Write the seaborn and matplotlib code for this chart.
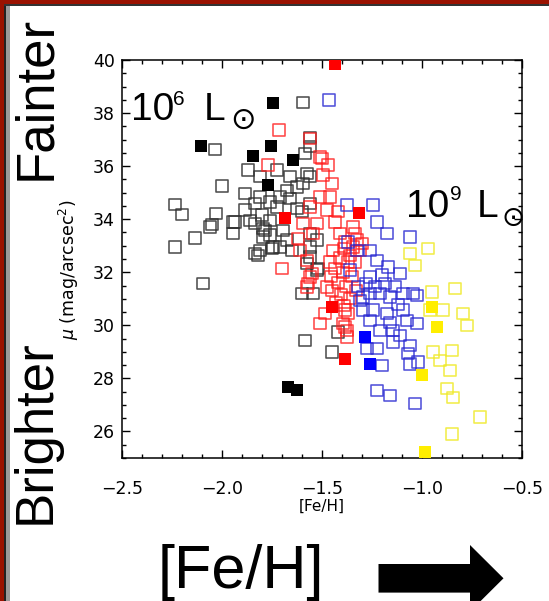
import numpy as np
import pandas as pd
import matplotlib
matplotlib.use("Agg")
import matplotlib.pyplot as plt
from matplotlib.patches import Polygon, Rectangle
from matplotlib.ticker import MultipleLocator
import seaborn as sns

# ---------------- data ----------------
black_open_fe = [-2.035, -2.00, -2.235, -2.20, -2.135, -2.05, -2.03, -1.945, -1.935, -1.87,
                 -1.885, -1.81, -1.835, -1.835, -1.785, -1.80, -2.235, -2.095, -1.835, -1.81,
                 -1.75, -1.76, -1.595, -1.56, -1.585, -1.725, -1.81, -1.76, -1.885, -1.86,
                 -1.795, -1.76, -1.725, -1.71, -1.675, -1.66, -1.66, -1.575, -1.56, -1.625,
                 -1.595, -1.625, -1.60, -1.56, -1.795, -1.82, -1.745, -1.695, -1.675, -1.65,
                 -1.71, -1.56, -1.525, -1.56, -1.56, -1.52, -1.575, -1.60, -1.545, -1.585,
                 -1.45, -1.42, -1.525, -1.56, -2.06, -1.945]
black_open_mu = [36.63, 35.25, 34.55, 34.18, 33.29, 33.80, 34.21, 33.46, 33.90, 35.85,
                 34.97, 35.60, 34.59, 33.84, 33.58, 34.15, 32.95, 31.57, 32.71, 32.83,
                 32.89, 33.40, 38.39, 37.08, 36.48, 35.85, 34.84, 34.65, 34.34, 33.96,
                 33.65, 33.96, 34.46, 34.84, 35.09, 34.78, 35.60, 35.72, 35.60, 35.22,
                 35.35, 34.40, 34.28, 34.59, 33.33, 32.64, 32.96, 33.58, 33.21, 32.83,
                 32.96, 33.46, 33.21, 32.96, 32.58, 32.14, 32.33, 31.20, 31.20, 29.43,
                 29.00, 29.75, 32.08, 36.73, 33.71, 33.90]
black_fill_fe = [-2.107, -1.845, -1.757, -1.772, -1.747, -1.644, -1.669, -1.627]
black_fill_mu = [36.77, 36.38, 36.77, 35.28, 38.39, 36.23, 27.67, 27.57]

red_open_fe = [-1.715, -1.56, -1.50, -1.47, -1.45, -1.77, -1.51, -1.46, -1.435, -1.385,
               -1.325, -1.30, -1.495, -1.51, -1.41, -1.345, -1.31, -1.36, -1.70, -1.55,
               -1.57, -1.485, -1.51, -1.395, -1.375, -1.37, -1.475, -1.56, -1.595, -1.62,
               -1.61, -1.575, -1.475, -1.42, -1.525, -1.545, -1.335, -1.345, -1.56, -1.575,
               -1.385, -1.385, -1.375,
               -1.445, -1.41, -1.37, -1.435, -1.395, -1.35, -1.42, -1.38, -1.45, -1.405,
               -1.36, -1.43, -1.39, -1.46, -1.335, -1.39, -1.455, -1.33]
red_open_mu = [37.36, 37.05, 36.29, 36.04, 35.35, 36.04, 34.84, 34.84, 33.90, 33.14,
               33.21, 33.08, 35.66, 36.35, 33.46, 33.71, 32.83, 32.64, 32.14, 31.95,
               31.57, 30.44, 30.06, 30.06, 29.81, 30.44, 31.45, 34.46, 33.84, 33.27,
               32.83, 32.45, 34.34, 34.28, 33.84, 33.46, 33.46, 32.96, 31.82, 31.45,
               30.57, 29.94, 29.56,
               32.83, 32.53, 32.38, 32.15, 32.00, 31.85, 31.62, 31.47, 31.32, 31.17,
               31.02, 30.87, 30.75, 32.38, 32.38, 32.90, 31.85, 31.32]
red_fill_fe = [-1.435, -1.315, -1.685, -1.45, -1.385]
red_fill_mu = [39.85, 34.24, 34.03, 30.69, 28.74]

blue_open_fe = [-1.465, -1.375, -1.245, -1.225, -1.175, -1.06, -1.37, -1.325, -1.26, -1.225,
                -1.17, -1.11, -1.26, -1.36, -1.20, -1.26, -1.295, -1.21, -1.16, -1.095,
                -1.045, -1.025, -1.295, -1.245, -1.175, -1.095, -1.075, -1.025, -1.26, -1.21,
                -1.145, -1.145, -1.06, -1.275, -1.225, -1.07, -1.06, -1.02, -1.20, -1.225,
                -1.16, -1.035, -1.32, -1.28, -1.235, -1.185, -1.135, -1.31, -1.12, -1.16,
                -1.11]
blue_open_mu = [38.49, 34.53, 34.53, 33.90, 33.46, 33.33, 33.14, 32.83, 32.83, 32.45,
                32.20, 31.95, 31.82, 32.08, 31.89, 31.20, 31.07, 31.20, 31.07, 31.20,
                31.20, 31.13, 30.57, 30.57, 30.44, 30.57, 30.19, 30.06, 30.19, 29.81,
                29.81, 29.37, 29.25, 29.12, 29.12, 28.93, 28.55, 28.62, 28.49, 27.55,
                27.36, 27.05, 31.47, 31.58, 31.47, 31.58, 31.47, 30.94, 30.79, 30.11,
                29.62]
blue_fill_fe = [-1.285, -1.26]
blue_fill_mu = [29.56, 28.55]

yellow_open_fe = [-0.97, -1.06, -1.035, -0.95, -0.835, -0.895, -0.795, -0.775, -0.85, -0.945,
                  -0.91, -0.86, -0.875, -0.845, -0.71, -0.85, -0.96]
yellow_open_mu = [32.89, 32.71, 32.26, 31.26, 31.38, 30.57, 30.44, 30.00, 29.06, 29.00,
                  28.68, 28.30, 27.61, 27.29, 26.54, 25.91, 30.57]
yellow_fill_fe = [-0.95, -0.925, -1.00, -0.985]
yellow_fill_mu = [30.69, 29.94, 28.11, 25.22]

x_ticks = [-2.5, -2.0, -1.5, -1.0, -0.5]
y_ticks = [26, 28, 30, 32, 34, 36, 38, 40]

# ---------------- figure ----------------
W, H = 549, 601
sns.set_style("ticks")
plt.rcParams["font.family"] = ["DejaVu Sans"]
plt.rcParams["text.color"] = "black"
plt.rcParams["axes.labelcolor"] = "black"
plt.rcParams["xtick.color"] = "black"
plt.rcParams["ytick.color"] = "black"

fig = plt.figure(figsize=(W / 100, H / 100), dpi=100)
fig.patch.set_facecolor("white")

def fx(px):
    return px / W

def fy(py):
    return 1 - py / H

ax = fig.add_axes([fx(122), fy(458), (522 - 122) / W, (458 - 60) / H])

groups = [
    ("black", False, black_open_fe, black_open_mu, "#303030", 0.85),
    ("red", False, red_open_fe, red_open_mu, "#ff1a1a", 0.8),
    ("blue", False, blue_open_fe, blue_open_mu, "#2626d0", 0.8),
    ("yellow", False, yellow_open_fe, yellow_open_mu, "#efe92a", 0.85),
    ("black", True, black_fill_fe, black_fill_mu, "#000000", 1.0),
    ("red", True, red_fill_fe, red_fill_mu, "#ff0000", 1.0),
    ("blue", True, blue_fill_fe, blue_fill_mu, "#0000ff", 1.0),
    ("yellow", True, yellow_fill_fe, yellow_fill_mu, "#ffee00", 1.0),
]
frames = []
for name, filled, fe, mu, col, a in groups:
    frames.append(pd.DataFrame({"fe": fe, "mu": mu, "grp": name, "filled": filled}))
df = pd.concat(frames, ignore_index=True)

for name, filled, fe, mu, col, a in groups:
    sub = df[(df.grp == name) & (df.filled == filled)]
    if filled:
        sns.scatterplot(data=sub, x="fe", y="mu", ax=ax, marker="s", s=80,
                        color=col, edgecolor=col, linewidth=0, alpha=a,
                        legend=False, zorder=4, clip_on=True)
    else:
        sns.scatterplot(data=sub, x="fe", y="mu", ax=ax, marker="s", s=68,
                        color=col, facecolor="none", edgecolor=col, linewidth=1.15,
                        alpha=a, legend=False, zorder=3, clip_on=True)

ax.set_xlim(-2.5, -0.5)
ax.set_ylim(25, 40)
ax.set_xticks(x_ticks)
ax.set_yticks(y_ticks)
ax.set_xticklabels([f"{v:.1f}".replace("-", "\u2212") for v in x_ticks])
ax.set_yticklabels([str(v) for v in y_ticks])
ax.xaxis.set_minor_locator(MultipleLocator(0.1))
ax.yaxis.set_minor_locator(MultipleLocator(0.5))
for sp in ax.spines.values():
    sp.set_visible(True)
    sp.set_linewidth(1.1)
    sp.set_color("black")
ax.tick_params(which="both", direction="in", top=True, right=True, color="black", width=1.0)
ax.tick_params(which="major", length=5.5)
ax.tick_params(which="minor", length=3)
ax.tick_params(axis="x", which="major", pad=16, labelsize=12.5, labelcolor="black")
ax.tick_params(axis="y", which="major", pad=5, labelsize=12.5, labelcolor="black")
ax.grid(False)

ax.set_xlabel("[Fe/H]", fontsize=11, color="black")
ax.xaxis.set_label_coords(0.5, (458 - 499) / 398)
ax.set_ylabel(r"$\mu$ (mag/arcsec$^2$)", fontsize=12.5, color="black")
ax.yaxis.set_label_coords((81 - 122) / 400, (458 - 270) / 398)

# ---------------- slide annotations ----------------
big = ["Liberation Sans", "DejaVu Sans"]
fig.text(fx(50), fy(180), "Fainter", rotation=90, rotation_mode="anchor",
         ha="left", va="baseline", fontsize=38, family=big, color="black")
fig.text(fx(50), fy(524), "Brighter", rotation=90, rotation_mode="anchor",
         ha="left", va="baseline", fontsize=38, family=big, color="black")

# 10^6 L_sun
fig.text(fx(131), fy(120), "10", fontsize=28, family=big, ha="left", va="baseline", color="black")
fig.text(fx(173), fy(105), "6", fontsize=15, family=big, ha="left", va="baseline", color="black")
fig.text(fx(204), fy(120), "L", fontsize=28, family=big, ha="left", va="baseline", color="black")
fig.text(fx(243), fy(129), "\u2299", fontsize=22, family=["DejaVu Sans"], ha="center",
         va="baseline", color="black")
# 10^9 L_sun
fig.text(fx(406), fy(217), "10", fontsize=28, family=big, ha="left", va="baseline", color="black")
fig.text(fx(450), fy(200), "9", fontsize=15, family=big, ha="left", va="baseline", color="black")
fig.text(fx(477), fy(217), "L", fontsize=28, family=big, ha="left", va="baseline", color="black")
fig.text(fx(513), fy(226), "\u2299", fontsize=20, family=["DejaVu Sans"], ha="center",
         va="baseline", color="black")

# big [Fe/H] with arrow
fig.text(fx(158), fy(588), "[Fe/H]", fontsize=44, family=big, ha="left", va="baseline",
         color="black")
arrow_px = [(378.5, 564), (470, 564), (470, 545), (503.5, 578.3),
            (470, 611.6), (470, 592.6), (378.5, 592.6)]
fig.add_artist(Polygon([(fx(a), fy(b)) for a, b in arrow_px], closed=True,
                       transform=fig.transFigure, facecolor="black", edgecolor="none"))

# slide frame (dark red border with shading)
frame = [
    (0, 0, 4, H, "#9a1200"),
    (0, 0, W, 4, "#9a1200"),
    (4, 4, 2, H, "#222222"),
    (4, 4, W, 2, "#333333"),
    (6, 6, 4, H, "#9a9a9a"),
]
for x0, y0, w, h, c in frame:
    fig.add_artist(Rectangle((fx(x0), fy(y0 + h)), w / W, h / H,
                             transform=fig.transFigure, facecolor=c, edgecolor="none"))

fig.savefig("out.png", dpi=100, facecolor="white")
